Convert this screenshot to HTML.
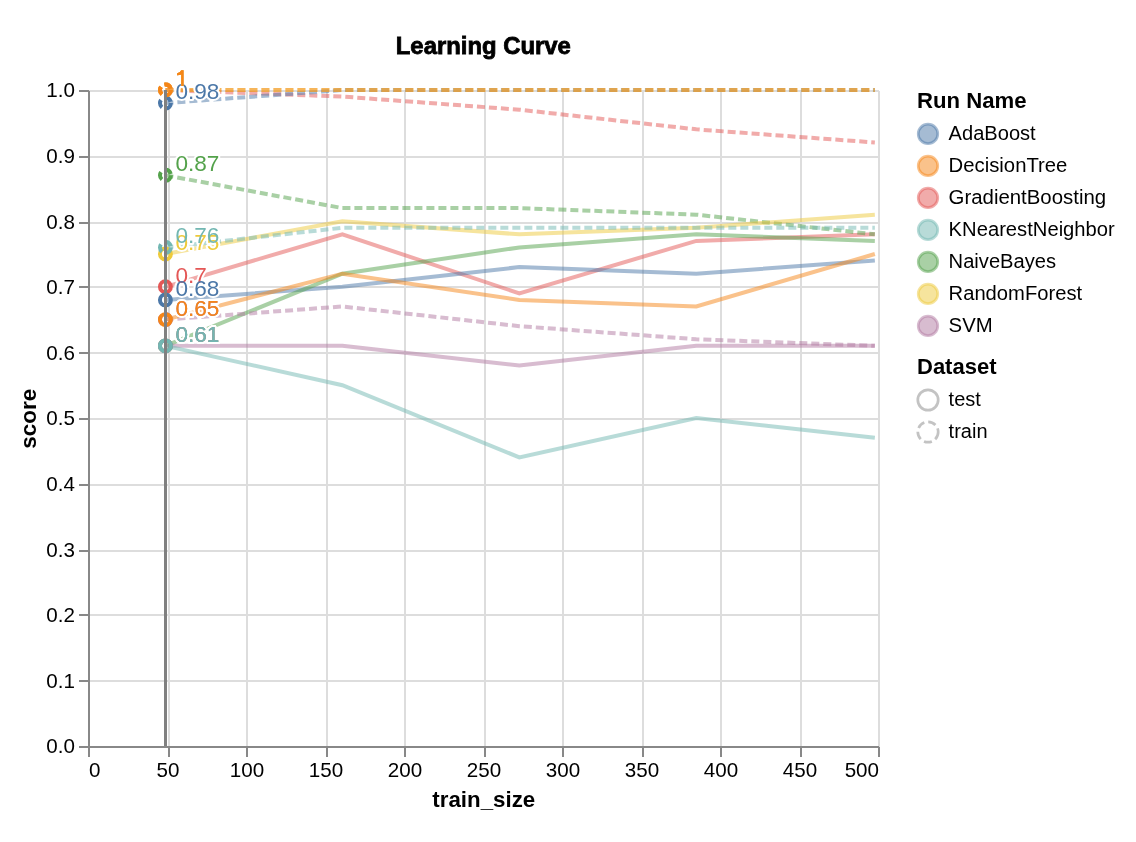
<!DOCTYPE html><html><head><meta charset="utf-8"><style>html,body{margin:0;padding:0;background:#fff;width:1136px;height:842px;overflow:hidden}svg{display:block;will-change:transform}text{font-family:"Liberation Sans",sans-serif}</style></head><body>
<svg width="1136" height="842" viewBox="0 0 1136 842">
<rect width="1136" height="842" fill="#fff"/>
<path d="M89.00,91V747 M169.00,91V747 M247.00,91V747 M327.00,91V747 M405.00,91V747 M485.00,91V747 M563.00,91V747 M643.00,91V747 M721.00,91V747 M801.00,91V747 M879.00,91V747 M89,747.00H879 M89,681.00H879 M89,615.00H879 M89,551.00H879 M89,485.00H879 M89,419.00H879 M89,353.00H879 M89,287.00H879 M89,223.00H879 M89,157.00H879 M89,91.00H879" stroke="#ddd" stroke-width="2" fill="none"/>
<path d="M89,746.9H879 M89,91V747 M89.00,747V757 M169.00,747V757 M247.00,747V757 M327.00,747V757 M405.00,747V757 M485.00,747V757 M563.00,747V757 M643.00,747V757 M721.00,747V757 M801.00,747V757 M879.00,747V757 M79,747.00H89 M79,681.00H89 M79,615.00H89 M79,551.00H89 M79,485.00H89 M79,419.00H89 M79,353.00H89 M79,287.00H89 M79,223.00H89 M79,157.00H89 M79,91.00H89" stroke="#888" stroke-width="2" fill="none"/>
<text x="89.00" y="776.7" font-size="20.6" text-anchor="start" fill="#000">0</text>
<text x="168.00" y="776.7" font-size="20.6" text-anchor="middle" fill="#000">50</text>
<text x="247.00" y="776.7" font-size="20.6" text-anchor="middle" fill="#000">100</text>
<text x="326.00" y="776.7" font-size="20.6" text-anchor="middle" fill="#000">150</text>
<text x="405.00" y="776.7" font-size="20.6" text-anchor="middle" fill="#000">200</text>
<text x="484.00" y="776.7" font-size="20.6" text-anchor="middle" fill="#000">250</text>
<text x="563.00" y="776.7" font-size="20.6" text-anchor="middle" fill="#000">300</text>
<text x="642.00" y="776.7" font-size="20.6" text-anchor="middle" fill="#000">350</text>
<text x="721.00" y="776.7" font-size="20.6" text-anchor="middle" fill="#000">400</text>
<text x="800.00" y="776.7" font-size="20.6" text-anchor="middle" fill="#000">450</text>
<text x="879.00" y="776.7" font-size="20.6" text-anchor="end" fill="#000">500</text>
<text x="75" y="753.40" font-size="20.6" text-anchor="end" fill="#000">0.0</text>
<text x="75" y="687.80" font-size="20.6" text-anchor="end" fill="#000">0.1</text>
<text x="75" y="622.20" font-size="20.6" text-anchor="end" fill="#000">0.2</text>
<text x="75" y="556.60" font-size="20.6" text-anchor="end" fill="#000">0.3</text>
<text x="75" y="491.00" font-size="20.6" text-anchor="end" fill="#000">0.4</text>
<text x="75" y="425.40" font-size="20.6" text-anchor="end" fill="#000">0.5</text>
<text x="75" y="359.80" font-size="20.6" text-anchor="end" fill="#000">0.6</text>
<text x="75" y="294.20" font-size="20.6" text-anchor="end" fill="#000">0.7</text>
<text x="75" y="228.60" font-size="20.6" text-anchor="end" fill="#000">0.8</text>
<text x="75" y="163.00" font-size="20.6" text-anchor="end" fill="#000">0.9</text>
<text x="75" y="97.40" font-size="20.6" text-anchor="end" fill="#000">1.0</text>
<text x="483.8" y="806.5" font-size="22.3" font-weight="bold" text-anchor="middle" fill="#000">train_size</text>
<text transform="translate(35.9,418.7) rotate(-90)" x="0" y="0" font-size="22.5" font-weight="bold" text-anchor="middle" fill="#000">score</text>
<text x="395.8" y="53.6" font-size="24" font-weight="bold" fill="#000" stroke="#000" stroke-width="0.8" textLength="175.0" lengthAdjust="spacingAndGlyphs">Learning Curve</text>
<polyline points="165.42,286.80 342.38,234.32 519.34,293.36 696.30,240.88 874.84,234.32" fill="none" stroke="#e45756" stroke-opacity="0.5" stroke-width="4.0"/>
<polyline points="165.42,90.00 342.38,96.56 519.34,109.68 696.30,129.36 874.84,142.48" fill="none" stroke="#e45756" stroke-opacity="0.5" stroke-width="4.0" stroke-dasharray="8,4"/>
<polyline points="165.42,299.92 342.38,286.80 519.34,267.12 696.30,273.68 874.84,260.56" fill="none" stroke="#4c78a8" stroke-opacity="0.5" stroke-width="4.0"/>
<polyline points="165.42,103.12 342.38,90.00 519.34,90.00 696.30,90.00 874.84,90.00" fill="none" stroke="#4c78a8" stroke-opacity="0.5" stroke-width="4.0" stroke-dasharray="8,4"/>
<polyline points="165.42,345.84 342.38,273.68 519.34,247.44 696.30,234.32 874.84,240.88" fill="none" stroke="#54a24b" stroke-opacity="0.5" stroke-width="4.0"/>
<polyline points="165.42,175.28 342.38,208.08 519.34,208.08 696.30,214.64 874.84,234.32" fill="none" stroke="#54a24b" stroke-opacity="0.5" stroke-width="4.0" stroke-dasharray="8,4"/>
<polyline points="165.42,345.84 342.38,345.84 519.34,365.52 696.30,345.84 874.84,345.84" fill="none" stroke="#b279a2" stroke-opacity="0.5" stroke-width="4.0"/>
<polyline points="165.42,319.60 342.38,306.48 519.34,326.16 696.30,339.28 874.84,345.84" fill="none" stroke="#b279a2" stroke-opacity="0.5" stroke-width="4.0" stroke-dasharray="8,4"/>
<polyline points="165.42,254.00 342.38,221.20 519.34,234.32 696.30,227.76 874.84,214.64" fill="none" stroke="#eeca3b" stroke-opacity="0.5" stroke-width="4.0"/>
<polyline points="165.42,90.00 342.38,90.00 519.34,90.00 696.30,90.00 874.84,90.00" fill="none" stroke="#eeca3b" stroke-opacity="0.5" stroke-width="4.0" stroke-dasharray="8,4"/>
<polyline points="165.42,345.84 342.38,385.20 519.34,457.36 696.30,418.00 874.84,437.68" fill="none" stroke="#72b7b2" stroke-opacity="0.5" stroke-width="4.0"/>
<polyline points="165.42,247.44 342.38,227.76 519.34,227.76 696.30,227.76 874.84,227.76" fill="none" stroke="#72b7b2" stroke-opacity="0.5" stroke-width="4.0" stroke-dasharray="8,4"/>
<polyline points="165.42,319.60 342.38,273.68 519.34,299.92 696.30,306.48 874.84,254.00" fill="none" stroke="#f58518" stroke-opacity="0.5" stroke-width="4.0"/>
<polyline points="165.42,90.00 342.38,90.00 519.34,90.00 696.30,90.00 874.84,90.00" fill="none" stroke="#f58518" stroke-opacity="0.5" stroke-width="4.0" stroke-dasharray="8,4"/>
<circle cx="165.42" cy="286.80" r="5.45" fill="none" stroke="#e45756" stroke-width="4.0"/>
<circle cx="165.42" cy="90.00" r="5.45" fill="none" stroke="#e45756" stroke-width="4.0" stroke-dasharray="8,4"/>
<circle cx="165.42" cy="299.92" r="5.45" fill="none" stroke="#4c78a8" stroke-width="4.0"/>
<circle cx="165.42" cy="103.12" r="5.45" fill="none" stroke="#4c78a8" stroke-width="4.0" stroke-dasharray="8,4"/>
<circle cx="165.42" cy="345.84" r="5.45" fill="none" stroke="#54a24b" stroke-width="4.0"/>
<circle cx="165.42" cy="175.28" r="5.45" fill="none" stroke="#54a24b" stroke-width="4.0" stroke-dasharray="8,4"/>
<circle cx="165.42" cy="345.84" r="5.45" fill="none" stroke="#b279a2" stroke-width="4.0"/>
<circle cx="165.42" cy="319.60" r="5.45" fill="none" stroke="#b279a2" stroke-width="4.0" stroke-dasharray="8,4"/>
<circle cx="165.42" cy="254.00" r="5.45" fill="none" stroke="#eeca3b" stroke-width="4.0"/>
<circle cx="165.42" cy="90.00" r="5.45" fill="none" stroke="#eeca3b" stroke-width="4.0" stroke-dasharray="8,4"/>
<circle cx="165.42" cy="345.84" r="5.45" fill="none" stroke="#72b7b2" stroke-width="4.0"/>
<circle cx="165.42" cy="247.44" r="5.45" fill="none" stroke="#72b7b2" stroke-width="4.0" stroke-dasharray="8,4"/>
<circle cx="165.42" cy="319.60" r="5.45" fill="none" stroke="#f58518" stroke-width="4.0"/>
<circle cx="165.42" cy="90.00" r="5.45" fill="none" stroke="#f58518" stroke-width="4.0" stroke-dasharray="8,4"/>
<text x="175.42" y="282.80" font-size="22.6" fill="none" stroke="#fff" stroke-width="4.0" stroke-linejoin="round">0.7</text>
<path d="M181.2,70.3 L183.5,70.3 L183.5,85.9 L181.2,85.9 L181.2,74.5 Q179.6,75.1 177.0,75.2 L177.0,73.4 Q180.3,73.0 181.2,70.3 Z" fill="none" stroke="#fff" stroke-width="4.0" stroke-linejoin="round"/>
<text x="175.42" y="295.92" font-size="22.6" fill="none" stroke="#fff" stroke-width="4.0" stroke-linejoin="round">0.68</text>
<text x="175.42" y="99.12" font-size="22.6" fill="none" stroke="#fff" stroke-width="4.0" stroke-linejoin="round">0.98</text>
<text x="175.42" y="341.84" font-size="22.6" fill="none" stroke="#fff" stroke-width="4.0" stroke-linejoin="round">0.61</text>
<text x="175.42" y="171.28" font-size="22.6" fill="none" stroke="#fff" stroke-width="4.0" stroke-linejoin="round">0.87</text>
<text x="175.42" y="341.84" font-size="22.6" fill="none" stroke="#fff" stroke-width="4.0" stroke-linejoin="round">0.61</text>
<text x="175.42" y="315.60" font-size="22.6" fill="none" stroke="#fff" stroke-width="4.0" stroke-linejoin="round">0.65</text>
<text x="175.42" y="250.00" font-size="22.6" fill="none" stroke="#fff" stroke-width="4.0" stroke-linejoin="round">0.75</text>
<path d="M181.2,70.3 L183.5,70.3 L183.5,85.9 L181.2,85.9 L181.2,74.5 Q179.6,75.1 177.0,75.2 L177.0,73.4 Q180.3,73.0 181.2,70.3 Z" fill="none" stroke="#fff" stroke-width="4.0" stroke-linejoin="round"/>
<text x="175.42" y="341.84" font-size="22.6" fill="none" stroke="#fff" stroke-width="4.0" stroke-linejoin="round">0.61</text>
<text x="175.42" y="243.44" font-size="22.6" fill="none" stroke="#fff" stroke-width="4.0" stroke-linejoin="round">0.76</text>
<text x="175.42" y="315.60" font-size="22.6" fill="none" stroke="#fff" stroke-width="4.0" stroke-linejoin="round">0.65</text>
<path d="M181.2,70.3 L183.5,70.3 L183.5,85.9 L181.2,85.9 L181.2,74.5 Q179.6,75.1 177.0,75.2 L177.0,73.4 Q180.3,73.0 181.2,70.3 Z" fill="none" stroke="#fff" stroke-width="4.0" stroke-linejoin="round"/>
<text x="175.42" y="282.80" font-size="22.6" fill="#e45756">0.7</text>
<path d="M181.2,70.3 L183.5,70.3 L183.5,85.9 L181.2,85.9 L181.2,74.5 Q179.6,75.1 177.0,75.2 L177.0,73.4 Q180.3,73.0 181.2,70.3 Z" fill="#e45756"/>
<text x="175.42" y="295.92" font-size="22.6" fill="#4c78a8">0.68</text>
<text x="175.42" y="99.12" font-size="22.6" fill="#4c78a8">0.98</text>
<text x="175.42" y="341.84" font-size="22.6" fill="#54a24b">0.61</text>
<text x="175.42" y="171.28" font-size="22.6" fill="#54a24b">0.87</text>
<text x="175.42" y="341.84" font-size="22.6" fill="#b279a2">0.61</text>
<text x="175.42" y="315.60" font-size="22.6" fill="#b279a2">0.65</text>
<text x="175.42" y="250.00" font-size="22.6" fill="#eeca3b">0.75</text>
<path d="M181.2,70.3 L183.5,70.3 L183.5,85.9 L181.2,85.9 L181.2,74.5 Q179.6,75.1 177.0,75.2 L177.0,73.4 Q180.3,73.0 181.2,70.3 Z" fill="#eeca3b"/>
<text x="175.42" y="341.84" font-size="22.6" fill="#72b7b2">0.61</text>
<text x="175.42" y="243.44" font-size="22.6" fill="#72b7b2">0.76</text>
<text x="175.42" y="315.60" font-size="22.6" fill="#f58518">0.65</text>
<path d="M181.2,70.3 L183.5,70.3 L183.5,85.9 L181.2,85.9 L181.2,74.5 Q179.6,75.1 177.0,75.2 L177.0,73.4 Q180.3,73.0 181.2,70.3 Z" fill="#f58518"/>
<line x1="165.5" y1="90" x2="165.5" y2="746" stroke="#808080" stroke-width="3"/>
<text x="917" y="108.1" font-size="22" font-weight="bold" fill="#000" textLength="109.5" lengthAdjust="spacingAndGlyphs">Run Name</text>
<circle cx="928" cy="133.9" r="9.75" fill="#4c78a8" fill-opacity="0.5" stroke="#4c78a8" stroke-opacity="0.5" stroke-width="2.7"/>
<text x="948.6" y="139.7" font-size="20" fill="#000" textLength="87.1" lengthAdjust="spacingAndGlyphs">AdaBoost</text>
<circle cx="928" cy="165.9" r="9.75" fill="#f58518" fill-opacity="0.5" stroke="#f58518" stroke-opacity="0.5" stroke-width="2.7"/>
<text x="948.6" y="171.7" font-size="20" fill="#000" textLength="118.8" lengthAdjust="spacingAndGlyphs">DecisionTree</text>
<circle cx="928" cy="197.9" r="9.75" fill="#e45756" fill-opacity="0.5" stroke="#e45756" stroke-opacity="0.5" stroke-width="2.7"/>
<text x="948.6" y="203.7" font-size="20" fill="#000" textLength="157.5" lengthAdjust="spacingAndGlyphs">GradientBoosting</text>
<circle cx="928" cy="229.9" r="9.75" fill="#72b7b2" fill-opacity="0.5" stroke="#72b7b2" stroke-opacity="0.5" stroke-width="2.7"/>
<text x="948.6" y="235.7" font-size="20" fill="#000" textLength="166.2" lengthAdjust="spacingAndGlyphs">KNearestNeighbor</text>
<circle cx="928" cy="261.9" r="9.75" fill="#54a24b" fill-opacity="0.5" stroke="#54a24b" stroke-opacity="0.5" stroke-width="2.7"/>
<text x="948.6" y="267.7" font-size="20" fill="#000" textLength="107.5" lengthAdjust="spacingAndGlyphs">NaiveBayes</text>
<circle cx="928" cy="293.9" r="9.75" fill="#eeca3b" fill-opacity="0.5" stroke="#eeca3b" stroke-opacity="0.5" stroke-width="2.7"/>
<text x="948.6" y="299.7" font-size="20" fill="#000" textLength="133.5" lengthAdjust="spacingAndGlyphs">RandomForest</text>
<circle cx="928" cy="325.9" r="9.75" fill="#b279a2" fill-opacity="0.5" stroke="#b279a2" stroke-opacity="0.5" stroke-width="2.7"/>
<text x="948.6" y="331.7" font-size="20" fill="#000" textLength="44.0" lengthAdjust="spacingAndGlyphs">SVM</text>
<text x="917" y="373.9" font-size="22" font-weight="bold" fill="#000">Dataset</text>
<circle cx="928" cy="400.0" r="10.2" fill="none" stroke="#888" stroke-opacity="0.5" stroke-width="2.7"/>
<text x="948.6" y="406.3" font-size="20" fill="#000">test</text>
<circle cx="928" cy="432.0" r="10.2" fill="none" stroke="#888" stroke-opacity="0.5" stroke-width="2.7" stroke-dasharray="8,4"/>
<text x="948.6" y="438.3" font-size="20" fill="#000">train</text>
</svg></body></html>
